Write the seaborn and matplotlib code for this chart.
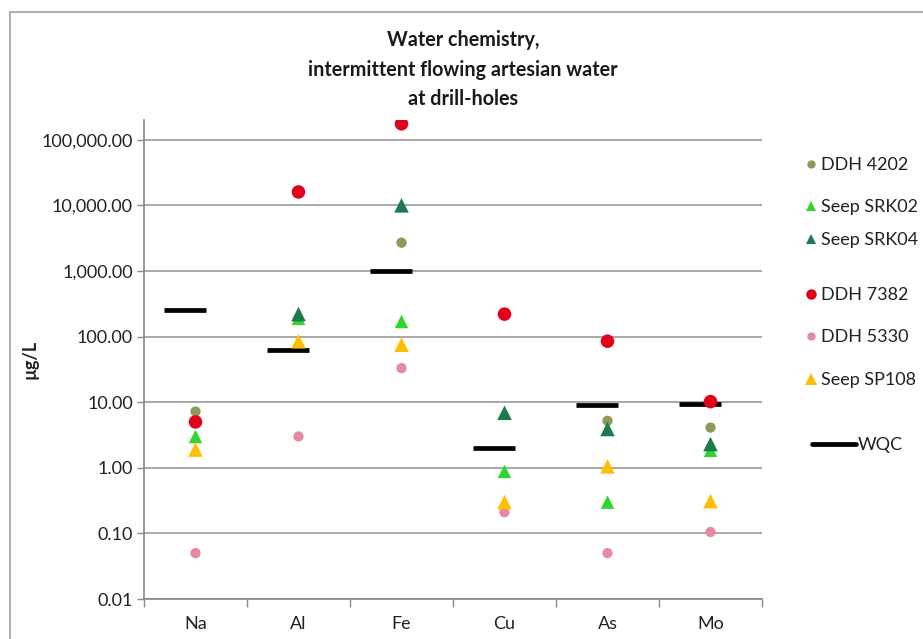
import numpy as np
import pandas as pd
import matplotlib
matplotlib.use("Agg")
import matplotlib.pyplot as plt
import seaborn as sns
from matplotlib.lines import Line2D
from matplotlib.patches import Rectangle
from matplotlib.ticker import FixedLocator, FuncFormatter, NullLocator

elements = ["Na", "Al", "Fe", "Cu", "As", "Mo"]
ddh4202 = [7.2, np.nan, 2700, np.nan, 5.2, 4.1]
srk02 = [3.0, 190, 170, 0.88, 0.30, 1.85]
srk04 = [np.nan, 220, 10000, 6.9, 3.9, 2.3]
ddh7382 = [5.0, 16000, 175000, 220, 85, 10.2]
ddh5330 = [0.05, 3.0, 33, 0.21, 0.05, 0.105]
sp108 = [1.9, 85, 75, 0.30, 1.05, 0.31]
wqc = [250, 62, 1000, 2.0, 9.0, 9.5]

series_names = ["DDH 4202", "Seep SRK02", "Seep SRK04", "DDH 7382", "DDH 5330", "Seep SP108"]
series_vals = [ddh4202, srk02, srk04, ddh7382, ddh5330, sp108]
colors = ["#8c9c58", "#2fd62f", "#1c7a4c", "#e3001b", "#e48ba2", "#ffbf00"]
markers = ["o", "^", "^", "o", "o", "^"]
sizes = [55, 95, 110, 95, 55, 110]

sns.set_theme(style="white")
plt.rcParams["font.family"] = ["Lato", "DejaVu Sans"]

fig = plt.figure(figsize=(9.23, 6.39), dpi=100)
W, H = 923, 639
ax = fig.add_axes([144 / W, 1 - 599 / H, (762 - 144) / W, (599 - 120) / H])

rows = []
for name, vals in zip(series_names, series_vals):
    for i, (el, v) in enumerate(zip(elements, vals)):
        rows.append({"series": name, "element": el, "xpos": i, "value": v})
df = pd.DataFrame(rows)
wdf = pd.DataFrame({"element": elements, "xpos": np.arange(len(elements)) - 0.1, "value": wqc})

ax.set_yscale("log")
ax.set_ylim(0.01, 2e5)
ax.set_xlim(-0.5, len(elements) - 0.5)

# WQC short bars
sns.scatterplot(data=wdf, x="xpos", y="value", marker="_", s=900, color="black",
                linewidth=3.4, ax=ax, legend=False, zorder=3)

for name, c, m, s in zip(series_names, colors, markers, sizes):
    sub = df[df["series"] == name].dropna()
    sns.scatterplot(data=sub, x="xpos", y="value", marker=m, s=s, color=c,
                    edgecolor="none", linewidth=0, ax=ax, legend=False, zorder=4)

decades = [0.01, 0.1, 1, 10, 100, 1000, 10000, 100000]
ax.yaxis.set_major_locator(FixedLocator(decades))
ax.yaxis.set_minor_locator(NullLocator())
ax.yaxis.set_major_formatter(FuncFormatter(lambda v, p: f"{v:,.2f}"))
ax.grid(axis="y", color="#9a9a9a", linewidth=1.2)
ax.set_axisbelow(True)

ax.xaxis.set_major_locator(FixedLocator(np.arange(-0.5, len(elements), 1.0)))
ax.xaxis.set_major_formatter(FuncFormatter(lambda v, p: ""))
ax.xaxis.set_minor_locator(FixedLocator(np.arange(len(elements))))
ax.set_xticklabels(elements, minor=True)
ax.tick_params(axis="x", which="minor", length=0, labelsize=13, pad=12, colors="#222222")
ax.tick_params(axis="x", which="major", length=6, width=1, color="#888888", direction="out", bottom=True)
ax.tick_params(axis="y", which="major", length=5, width=1, color="#888888", direction="out",
               left=True, labelsize=13, pad=3, labelcolor="#222222")
ax.set_xlabel("")
ax.set_ylabel("µg/L", fontsize=13, fontweight="bold", labelpad=2, color="#222222")

for side in ["top", "right"]:
    ax.spines[side].set_visible(False)
for side in ["left", "bottom"]:
    ax.spines[side].set_color("#888888")
    ax.spines[side].set_linewidth(1.2)

fig.text(463 / W, 1 - 30 / H, "Water chemistry,\nintermittent flowing artesian water\nat drill-holes",
         ha="center", va="top", fontsize=14.2, fontweight="bold", linespacing=1.6, color="#1a1a1a")

# legend entries
leg_y = [165, 207, 240, 295, 337, 380]
leg_ms = [6, 7.5, 7, 7.5, 6, 8]
for name, c, m, ms, yy in zip(series_names, colors, markers, leg_ms, leg_y):
    h = Line2D([], [], linestyle="none", marker=m, color=c, markersize=ms, markeredgewidth=0)
    fig.legend(handles=[h], labels=[name], loc="center left",
               bbox_to_anchor=(806 / W, 1 - yy / H), bbox_transform=fig.transFigure,
               frameon=False, fontsize=13, handlelength=0.6, handletextpad=0.25,
               borderpad=0, borderaxespad=0, labelcolor="#222222")
hw = Line2D([], [], color="black", linewidth=3.4)
fig.legend(handles=[hw], labels=["WQC"], loc="center left",
           bbox_to_anchor=(812 / W, 1 - 445 / H), bbox_transform=fig.transFigure,
           frameon=False, fontsize=13, handlelength=2.45, handletextpad=0.08,
           borderpad=0, borderaxespad=0, labelcolor="#222222")

fig.patches.append(Rectangle((10 / W, -0.1), 1.2, 1 - 12 / H + 0.1, transform=fig.transFigure,
                             fill=False, edgecolor="#b0b0b0", linewidth=1.5))

fig.savefig("out.png", dpi=100)
